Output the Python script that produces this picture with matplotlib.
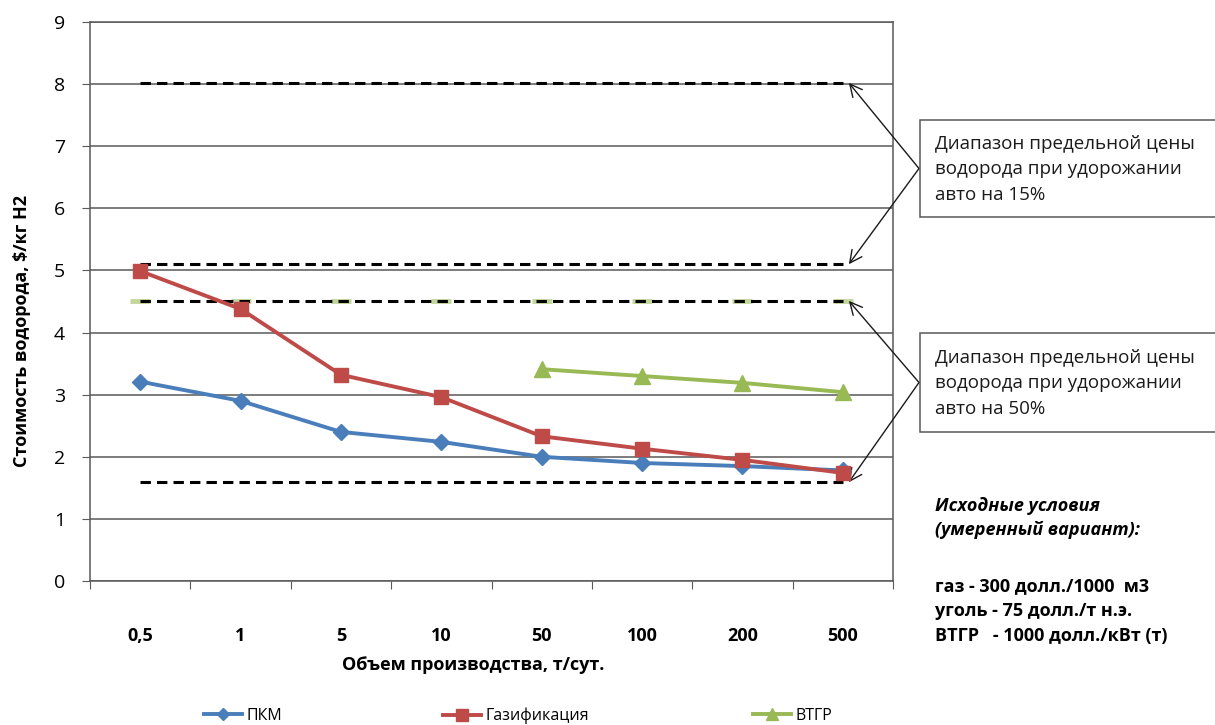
import matplotlib.pyplot as plt
import matplotlib.patches as mpatches
import numpy as np

plt.rcParams['font.family'] = ['Open Sans', 'DejaVu Sans']

# volumes, t/day
volumes = ['0,5', '1', '5', '10', '50', '100', '200', '500']

# hydrogen cost, $/kg
pkm = [3.21, 2.90, 2.40, 2.24, 2.00, 1.90, 1.85, 1.78]
gasif = [4.99, 4.38, 3.32, 2.96, 2.33, 2.13, 1.95, 1.74]
vtgr_idx = [4, 5, 6, 7]
vtgr = [3.41, 3.30, 3.19, 3.04]

# price limit ranges (car cost +15% and +50%)
range15 = [8.02, 5.10]
range50 = [4.51, 1.59]

grid_c = '#595959'

fig = plt.figure(figsize=(12.15, 7.25), dpi=100)
ax = fig.add_axes([90 / 1215, 1 - 581 / 725, 803 / 1215, 559 / 725])

x = np.arange(len(volumes))

ax.set_ylim(0, 9)
ax.set_xlim(-0.5, len(volumes) - 0.5)
ax.set_yticks(range(0, 10))
ax.yaxis.grid(True, color=grid_c, lw=1.1)
ax.set_axisbelow(True)
for s in ax.spines.values():
    s.set_color(grid_c)
    s.set_linewidth(1.1)

# category ticks sit between the categories, labels in the middle
ax.set_xticks(np.arange(-0.5, len(volumes)), minor=False)
ax.set_xticklabels([])
ax.set_xticks(x, minor=True)
ax.set_xticklabels(volumes, minor=True, fontsize=13, fontweight='bold')
ax.tick_params(axis='x', which='major', length=6, color=grid_c, direction='out')
ax.tick_params(axis='x', which='minor', length=0, pad=33)
ax.tick_params(axis='y', length=6, color=grid_c, labelsize=14, pad=12)

# limit price lines
ax.plot(x, [range50[0]] * len(x), ls='none', marker='_', ms=14, mew=3.5,
        color='#c3d69b', zorder=2)
for v in range15 + range50:
    ax.plot(x, [v] * len(x), color='black', lw=2.2, dashes=(3.4, 2.0),
            dash_capstyle='butt', zorder=3)

ax.plot(x, pkm, color='#4a7ebb', lw=2.8, marker='D', ms=8, zorder=4, label='ПКМ')
ax.plot(x, gasif, color='#be4b48', lw=2.8, marker='s', ms=10, zorder=5,
        label='Газификация')
ax.plot(x[vtgr_idx], vtgr, color='#98b954', lw=2.8, marker='^', ms=11, zorder=4,
        label='ВТГР')

ax.set_ylabel('Стоимость водорода, $/кг H2', fontsize=13, fontweight='bold')
ax.yaxis.set_label_coords(-0.074, 0.447)
ax.set_xlabel('Объем производства, т/сут.', fontsize=13, fontweight='bold')
ax.xaxis.set_label_coords(0.477, -0.134)

# legend entries spread along the bottom
handles = ax.get_lines()[-3:]
for h, xpos in zip(handles, [198, 437, 747]):
    fig.legend([h], [h.get_label()], loc='center left',
               bbox_to_anchor=(xpos / 1215 - 0.007, 1 - 716 / 725),
               frameon=False, fontsize=11.5, handlelength=2.4,
               handletextpad=0.25, markerscale=0.8)

# range boxes with arrows
boxes = [('Диапазон предельной цены\nводорода при удорожании\nавто на 15%', 120, 217, range15),
         ('Диапазон предельной цены\nводорода при удорожании\nавто на 50%', 333, 432, range50)]
for txt, top, bot, vals in boxes:
    fig.patches.append(mpatches.Rectangle(
        (920 / 1215, 1 - bot / 725), 310 / 1215, (bot - top) / 725,
        transform=fig.transFigure, fc='white', ec=grid_c, lw=1.1))
    ymid = (top + bot) / 2
    fig.text(935 / 1215, 1 - (ymid + 1) / 725, txt, fontsize=13.5, va='center',
             ha='left', linespacing=1.55, color='#1a1a1a')
    for v in vals:
        ax.annotate('', xy=(7.06, v), xycoords='data',
                    xytext=(919 / 1215, 1 - ymid / 725), textcoords='figure fraction',
                    arrowprops=dict(arrowstyle='->', color='#1a1a1a', lw=1.0,
                                    mutation_scale=22, shrinkA=0, shrinkB=0),
                    annotation_clip=False)

fig.text(935 / 1215, 1 - 518 / 725, 'Исходные условия\n(умеренный вариант):',
         fontsize=13, fontweight='bold', style='italic', va='center',
         linespacing=1.45)
fig.text(935 / 1215, 1 - 611 / 725,
         'газ - 300 долл./1000  м3\nуголь - 75 долл./т н.э.\nВТГР   - 1000 долл./кВт (т)',
         fontsize=13, fontweight='bold', va='center', linespacing=1.5)

fig.savefig('out.png', dpi=100)
